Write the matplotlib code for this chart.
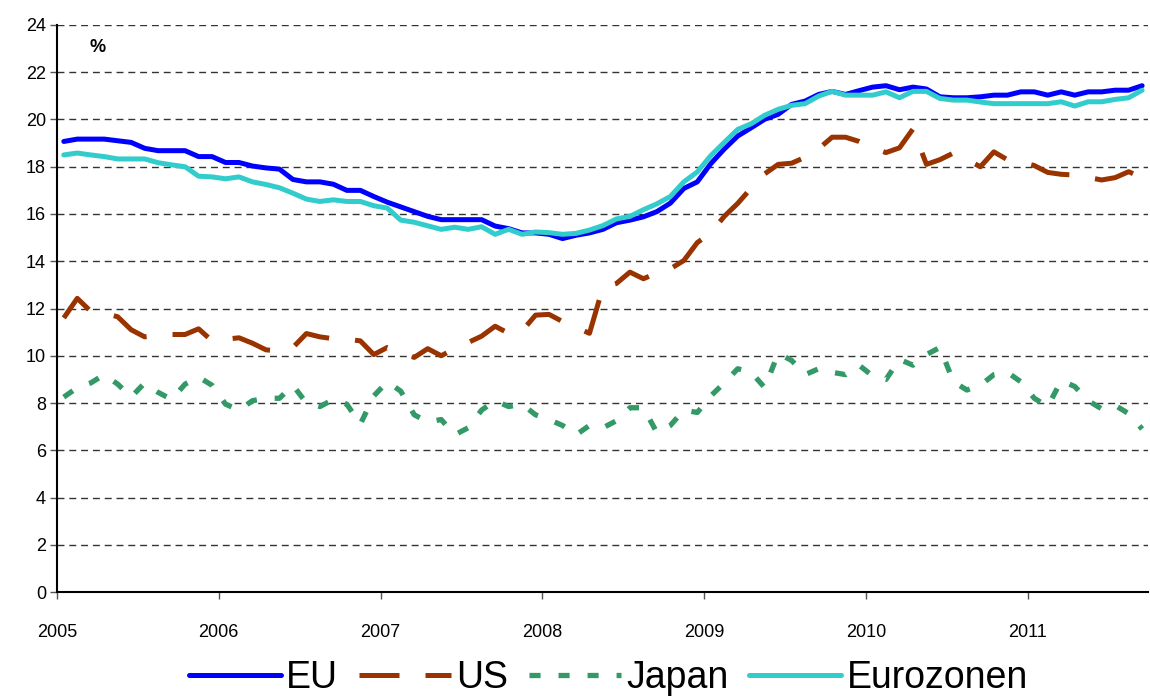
import numpy as np
import matplotlib
matplotlib.use("Agg")
import matplotlib.pyplot as plt

plt.rcParams['font.family'] = ['Liberation Sans', 'DejaVu Sans']

# monthly values, Jan 2005 - Sep 2011 (%)
eu = [19.07, 19.17, 19.17, 19.17, 19.10, 19.03, 18.78, 18.68, 18.68, 18.68,
      18.43, 18.43, 18.18, 18.18, 18.03, 17.95, 17.90, 17.46, 17.36, 17.36,
      17.26, 17.00, 17.00, 16.74, 16.50, 16.30, 16.10, 15.90, 15.76, 15.76,
      15.76, 15.76, 15.49, 15.38, 15.20, 15.20, 15.14, 14.96, 15.10, 15.20,
      15.35, 15.63, 15.74, 15.88, 16.10, 16.46, 17.08, 17.36, 18.13, 18.75,
      19.30, 19.65, 20.01, 20.22, 20.64, 20.78, 21.06, 21.19, 21.06, 21.22,
      21.37, 21.43, 21.26, 21.37, 21.29, 20.96, 20.92, 20.92, 20.96, 21.03,
      21.03, 21.17, 21.17, 21.03, 21.17, 21.03, 21.17, 21.17, 21.24, 21.24,
      21.43]
us = [11.60, 12.43, 11.88, 11.80, 11.65, 11.10, 10.80, 10.85, 10.90, 10.90,
      11.14, 10.63, 10.70, 10.76, 10.53, 10.25, 10.20, 10.35, 10.94, 10.80,
      10.72, 10.70, 10.63, 10.05, 10.35, 10.15, 9.93, 10.30, 10.00, 10.30,
      10.56, 10.83, 11.25, 10.95, 11.05, 11.72, 11.75, 11.45, 11.20, 10.95,
      12.90, 13.06, 13.54, 13.26, 13.50, 13.68, 14.03, 14.79, 15.20, 15.90,
      16.45, 17.10, 17.70, 18.10, 18.15, 18.40, 18.76, 19.25, 19.25, 19.07,
      18.80, 18.60, 18.80, 19.60, 18.10, 18.30, 18.58, 18.30, 18.00, 18.63,
      18.30, 18.20, 18.05, 17.76, 17.68, 17.65, 17.55, 17.44, 17.54, 17.79,
      17.54]
japan = [8.25, 8.65, 8.85, 9.20, 8.80, 8.25, 8.85, 8.45, 8.15, 8.80,
         9.10, 8.75, 7.95, 7.70, 8.10, 8.20, 8.20, 8.75, 8.00, 7.85,
         8.15, 7.95, 7.10, 8.30, 8.90, 8.50, 7.50, 7.20, 7.30, 6.65,
         6.95, 7.70, 8.10, 7.85, 7.95, 7.50, 7.30, 7.05, 6.65, 7.05,
         6.95, 7.25, 7.80, 7.80, 6.75, 7.05, 7.70, 7.60, 8.30, 8.85,
         9.45, 9.30, 8.65, 10.10, 9.80, 9.20, 9.45, 9.30, 9.20, 9.60,
         9.15, 9.00, 9.85, 9.60, 10.05, 10.35, 8.90, 8.55, 8.75, 9.20,
         9.30, 8.90, 8.20, 7.85, 8.95, 8.70, 8.10, 7.75, 7.90, 7.55,
         6.90]
eurozone = [18.50, 18.58, 18.50, 18.43, 18.33, 18.33, 18.33, 18.17, 18.08, 18.00,
            17.60, 17.57, 17.49, 17.57, 17.36, 17.25, 17.11, 16.88, 16.63, 16.53,
            16.60, 16.53, 16.53, 16.35, 16.25, 15.74, 15.65, 15.50, 15.35, 15.44,
            15.35, 15.46, 15.14, 15.35, 15.14, 15.24, 15.21, 15.14, 15.18, 15.32,
            15.51, 15.79, 15.90, 16.18, 16.43, 16.74, 17.36, 17.78, 18.47, 19.03,
            19.58, 19.82, 20.18, 20.43, 20.60, 20.67, 20.99, 21.19, 21.03, 21.03,
            21.03, 21.17, 20.92, 21.19, 21.19, 20.89, 20.82, 20.82, 20.74, 20.67,
            20.67, 20.67, 20.67, 20.67, 20.75, 20.57, 20.75, 20.75, 20.85, 20.92,
            21.24]
years = [2005, 2006, 2007, 2008, 2009, 2010, 2011]

x = years[0] + (np.arange(len(eu)) + 0.5) / 12.0

fig = plt.figure(figsize=(11.5, 6.96), dpi=100)
ax = fig.add_axes([0.0496, 0.1494, 0.9487, 0.8147])

ax.plot(x, eu, color='#0000FF', lw=3.6, solid_capstyle='round', label='EU', zorder=3)
ax.plot(x, us, color='#993300', lw=3.6, dashes=(8, 5.2), label='US', zorder=3)
ax.plot(x, japan, color='#339966', lw=3.8, dashes=(2.1, 3.4), label='Japan', zorder=3)
ax.plot(x, eurozone, color='#33CCCC', lw=3.6, solid_capstyle='round', label='Eurozonen', zorder=4)

ax.set_xlim(2005, 2011.745)
ax.set_ylim(0, 24)
ax.set_yticks(range(0, 25, 2))
ax.set_xticks(years)
ax.set_xticklabels([str(y) for y in years])
for v in range(2, 25, 2):
    ax.axhline(v, color='#333333', lw=1.0, dashes=(5, 3.5), zorder=1)

ax.spines['top'].set_visible(False)
ax.spines['right'].set_visible(False)
ax.spines['left'].set_linewidth(1.5)
ax.spines['bottom'].set_linewidth(1.5)
ax.tick_params(axis='y', length=5, width=1, labelsize=13, pad=3, color='#555555')
ax.tick_params(axis='x', length=5, width=1, labelsize=13, pad=18, color='#555555')

ax.text(0.037, 0.96, '%', transform=ax.transAxes, fontsize=13, fontweight='bold',
        ha='center', va='center')

fig.legend(loc='center', bbox_to_anchor=(0.529, 0.026), ncol=4, frameon=False,
           fontsize=27, handlelength=2.45, handletextpad=0.15, columnspacing=0.55,
           borderaxespad=0)

fig.savefig('out.png', dpi=100)
